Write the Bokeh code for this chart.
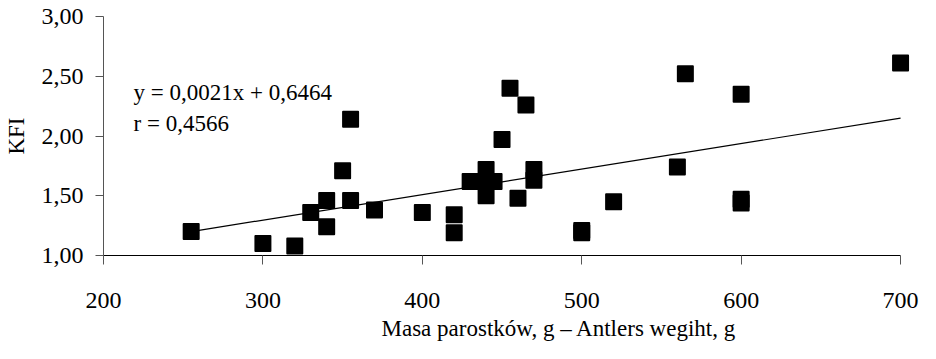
from bokeh.plotting import figure
from bokeh.models import Range1d, FixedTicker, CustomJSTickFormatter, Label, Title
from bokeh.embed import file_html
from bokeh.resources import INLINE

# ---- data ----
mass = [255, 300, 320, 330, 340, 340, 350, 355, 355, 370, 400, 420, 420,
        430, 440, 445, 440, 440, 450, 455, 465, 460, 470, 470, 500, 500,
        520, 560, 565, 600, 600, 600, 700]
kfi = [1.20, 1.10, 1.08, 1.36, 1.46, 1.24, 1.71, 2.14, 1.46, 1.38, 1.36, 1.34, 1.19,
       1.62, 1.62, 1.62, 1.72, 1.50, 1.97, 2.40, 2.26, 1.48, 1.72, 1.63, 1.21, 1.19,
       1.45, 1.74, 2.52, 2.35, 1.47, 1.44, 2.61]
trend_x = [255, 700]
trend_y = [1.20, 2.15]
x_ticks = [200, 300, 400, 500, 600, 700]
y_ticks = [1.0, 1.5, 2.0, 2.5, 3.0]
equation_text = "y = 0,0021x + 0,6464"
r_text = "r = 0,4566"
x_title = "Masa parostków, g – Antlers wegiht, g"
y_title = "KFI"

FONT = "Liberation Serif"

# x range padded a little past 700 so the last square is not cut by the frame;
# the axis itself is bounded to 200..700
p = figure(width=920, height=343, output_backend="svg", toolbar_location=None,
           x_range=Range1d(200, 710), y_range=Range1d(1, 3),
           min_border_left=100, min_border_right=4, min_border_top=16, min_border_bottom=87)
p.outline_line_color = None
p.grid.visible = False
p.background_fill_color = "white"
p.border_fill_color = "white"

p.line(trend_x, trend_y, line_color="black", line_width=1.2)
p.scatter(mass, kfi, marker="square", size=15, fill_color="black",
          line_color="black", line_width=2, line_join="round")

xa = p.xaxis[0]
xa.bounds = (x_ticks[0], x_ticks[-1])
xa.ticker = FixedTicker(ticks=x_ticks)
xa.minor_tick_line_color = None
xa.major_tick_out = 9
xa.major_tick_in = 0
xa.axis_line_color = "black"
xa.major_tick_line_color = "#555555"
xa.major_label_standoff = 28
xa.major_label_text_font = FONT
xa.major_label_text_font_size = "24px"
xa.major_label_text_color = "black"

ya = p.yaxis[0]
ya.ticker = FixedTicker(ticks=y_ticks)
ya.formatter = CustomJSTickFormatter(code="return tick.toFixed(2).replace('.', ',');")
ya.minor_tick_line_color = None
ya.major_tick_out = 8
ya.major_tick_in = 0
ya.axis_line_color = "#555555"
ya.major_tick_line_color = "#555555"
ya.major_label_standoff = 12
ya.major_label_text_font = FONT
ya.major_label_text_font_size = "24px"
ya.major_label_text_color = "black"
ya.axis_label = y_title
ya.axis_label_standoff = 10
ya.axis_label_text_font = FONT
ya.axis_label_text_font_size = "23px"
ya.axis_label_text_font_style = "normal"
ya.axis_label_text_color = "black"

common = dict(x_units="screen", y_units="screen", text_font=FONT,
              text_font_size="23px", text_color="black")
p.add_layout(Label(x=30, y=163, text=equation_text, text_baseline="alphabetic", **common))
p.add_layout(Label(x=30, y=132, text=r_text, text_baseline="alphabetic", **common))

title = Title(text=x_title, align="left", offset=278, standoff=6,
              text_font=FONT, text_font_size="23px", text_font_style="normal",
              text_color="black")
p.add_layout(title, "below")

open("out.html", "w").write(file_html(p, INLINE))
